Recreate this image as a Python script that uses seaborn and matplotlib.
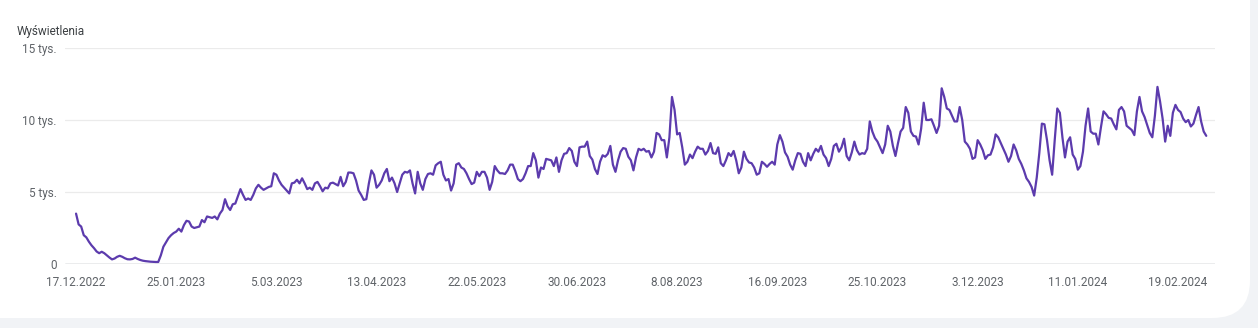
import matplotlib
matplotlib.use("Agg")
import matplotlib.pyplot as plt
from matplotlib.patches import FancyBboxPatch
import seaborn as sns
import pandas as pd

# Daily views (thousands), starting 17.12.2022
views_k = [
    3.5, 2.75, 2.6, 2.0, 1.85, 1.55, 1.3, 1.1, 0.87, 0.75, 0.85, 0.75, 0.6, 0.45, 0.32, 0.38,
    0.5, 0.57, 0.5, 0.4, 0.33, 0.32, 0.35, 0.44, 0.35, 0.28, 0.23, 0.2, 0.18, 0.16, 0.15, 0.14,
    0.14, 0.6, 1.2, 1.5, 1.8,
    2.0, 2.15, 2.25, 2.45, 2.25, 2.7, 3.0, 2.95, 2.6, 2.5, 2.55, 2.6, 3.05, 2.9, 3.3, 3.25,
    3.2, 3.3, 3.1, 3.5, 3.75, 4.5, 4.0, 3.75, 4.15, 4.2, 4.7, 5.2, 4.8, 4.45, 4.55, 4.45,
    4.8, 5.25, 5.5, 5.3,
    5.15, 5.25, 5.35, 5.4, 6.3, 6.2, 5.8, 5.5, 5.3, 5.1, 4.9, 5.6, 5.65, 5.85, 5.6, 5.95,
    5.6, 5.2, 5.3, 5.15, 5.6, 5.7, 5.4, 5.05, 5.3, 5.25, 5.6, 5.65, 5.55, 5.45, 6.05, 5.4,
    5.7, 6.35,
    6.35, 6.3, 5.8, 5.1, 4.8, 4.45, 4.5, 5.6, 6.5, 6.2, 5.3, 5.5, 5.8, 6.3, 6.6, 5.75,
    6.0, 5.6, 5.0, 5.6, 6.2, 6.4, 6.35, 6.5, 5.6, 4.9, 6.4, 5.6, 5.15, 5.9, 6.25, 6.3,
    6.2, 6.85, 7.0,
    7.1, 6.2, 5.8, 5.9, 5.1, 5.6, 6.9, 7.0, 6.7, 6.6, 6.3, 5.9, 5.55, 5.65, 6.4, 6.1,
    6.4, 6.4, 6.0, 5.15, 5.7, 6.8, 6.5, 6.3, 6.3, 6.25, 6.5, 6.9, 6.9, 6.45, 5.9, 5.75,
    5.9, 6.3, 6.8,
    6.8, 7.7, 7.2, 6.0, 6.7, 6.6, 7.3, 7.25, 7.2, 6.8, 7.4, 6.4, 7.2, 7.65, 7.7, 8.05,
    7.85, 7.1, 6.8, 8.1, 8.15, 8.15, 8.5, 7.5, 7.25, 6.6, 6.25, 7.1, 7.55, 7.45, 7.65, 8.2,
    6.9, 6.4, 7.2,
    7.8, 8.05, 8.0, 7.45, 7.2, 6.5, 7.4, 8.0, 7.9, 8.0, 7.8, 7.85, 7.4, 7.8, 9.1, 9.0,
    8.6, 8.6, 7.4, 8.8, 11.6, 10.7, 9.0, 9.1, 8.1, 6.9, 7.1, 7.6, 7.35, 7.8, 8.15, 8.0,
    8.0, 7.6, 7.85,
    8.4, 7.7, 7.65, 8.1, 7.0, 6.8, 7.2, 7.7, 7.5, 7.85, 7.2, 6.3, 6.7, 7.8, 7.3, 7.05,
    7.0, 6.7, 6.2, 6.3, 7.1, 6.95, 6.75, 6.95, 7.1, 6.9, 8.3, 8.95, 8.5, 7.75, 7.45, 6.9,
    6.55, 7.2, 7.7,
    7.65, 7.1, 6.8, 7.7, 7.2, 7.65, 8.0, 7.8, 8.2, 7.6, 7.35, 6.8, 7.3, 8.2, 8.35, 7.8,
    8.1, 8.7, 7.5, 7.2, 7.75, 8.5, 7.9, 7.6, 7.7, 7.65, 8.0, 9.9, 9.2, 8.75, 8.5, 8.1,
    7.7, 8.3, 9.6,
    9.2, 8.2, 7.5, 8.4, 9.2, 9.45, 10.9, 10.5, 9.2, 8.9, 8.85, 8.3, 9.4, 11.2, 10.0, 10.0,
    10.05, 9.6, 9.1, 9.6, 12.2, 11.6, 10.8, 10.7, 10.3, 9.9, 9.9, 10.9, 10.0, 8.5, 8.3, 8.0,
    7.3, 7.4, 8.6,
    8.3, 7.9, 7.3, 7.55, 7.6, 8.1, 9.0, 8.8, 8.4, 8.0, 7.6, 7.1, 7.5, 8.3, 7.9, 7.3,
    6.95, 6.5, 5.95, 5.7, 5.35, 4.75, 6.0, 7.7, 9.75, 9.7, 8.6, 7.2, 6.2, 8.6, 10.8, 10.5,
    8.8, 7.4, 8.5, 8.8,
    7.6, 7.3, 6.55, 6.8, 7.8, 9.6, 10.8, 9.2, 9.05, 9.05, 8.3, 9.5, 10.6, 10.4, 10.15, 10.1,
    9.7, 9.35, 10.7, 10.9, 10.6, 9.6, 9.45, 9.3, 8.95, 10.6, 11.6, 10.6, 10.2, 9.65, 9.1, 8.8,
    10.3, 12.3, 11.3, 10.1, 8.5, 9.6, 8.9, 10.5, 11.05, 10.7, 10.55, 10.1, 9.85, 10.0, 9.55, 9.75,
    10.35, 10.9, 9.9, 9.2, 8.9,
]
start_date = "2022-12-17"

x_tick_labels = ["17.12.2022", "25.01.2023", "5.03.2023", "13.04.2023", "22.05.2023",
                 "30.06.2023", "8.08.2023", "16.09.2023", "25.10.2023", "3.12.2023",
                 "11.01.2024", "19.02.2024"]
y_tick_values = [0, 5000, 10000, 15000]
y_tick_labels = ["0", "5 tys.", "10 tys.", "15 tys."]
y_title = "Wyświetlenia"

LINE = "#5c3bad"
TEXT = "#5f6368"
GRID = "#ebebeb"
BASE = "#9aa0a6"
PAGE = "#f1f3f6"

df = pd.DataFrame({
    "date": pd.date_range(start_date, periods=len(views_k), freq="D"),
    "views": [v * 1000 for v in views_k],
})
tick_dates = pd.to_datetime(x_tick_labels, format="%d.%m.%Y")

sns.set_theme(style="white")
plt.rcParams["font.family"] = ["Roboto", "DejaVu Sans"]

W, H = 1258, 328
fig = plt.figure(figsize=(W / 100, H / 100), dpi=100)
fig.patch.set_facecolor(PAGE)

# white card with rounded bottom corners
card = FancyBboxPatch((-40 / W, 10 / H), (1250 + 40) / W, 1.5,
                      boxstyle="round,pad=0,rounding_size=0.03",
                      transform=fig.transFigure, facecolor="white", edgecolor="none",
                      mutation_aspect=W / H, zorder=-10)
fig.patches.append(card)

ax = fig.add_axes([65 / W, (H - 264) / H, 1150 / W, 216 / H])
ax.set_zorder(2)
ax.set_facecolor("none")
sns.lineplot(data=df, x="date", y="views", ax=ax, color=LINE, linewidth=1.6, zorder=3)

ax.set_ylim(0, 15000)
x0 = df["date"].iloc[0]
ax.set_xlim(x0 - pd.Timedelta(days=4.3), x0 + pd.Timedelta(days=443.4))

ax.set_yticks(y_tick_values)
ax.set_yticklabels(y_tick_labels)
ax.set_xticks(tick_dates)
ax.set_xticklabels(x_tick_labels)
ax.tick_params(axis="both", length=0, labelsize=8.5, labelcolor=TEXT)
ax.tick_params(axis="y", pad=6)
ax.tick_params(axis="x", pad=9)

for v in y_tick_values[1:]:
    ax.axhline(v, color=GRID, linewidth=0.9, zorder=1)
ax.axhline(0, color=BASE, linewidth=1.0, zorder=2)

for s in ax.spines.values():
    s.set_visible(False)
ax.set_xlabel("")
ax.set_ylabel("")

fig.text(17 / W, 1 - 31 / H, y_title, fontsize=8.5, color="#3c4043", va="center", ha="left")

fig.savefig("out.png", dpi=100, facecolor=fig.get_facecolor())
